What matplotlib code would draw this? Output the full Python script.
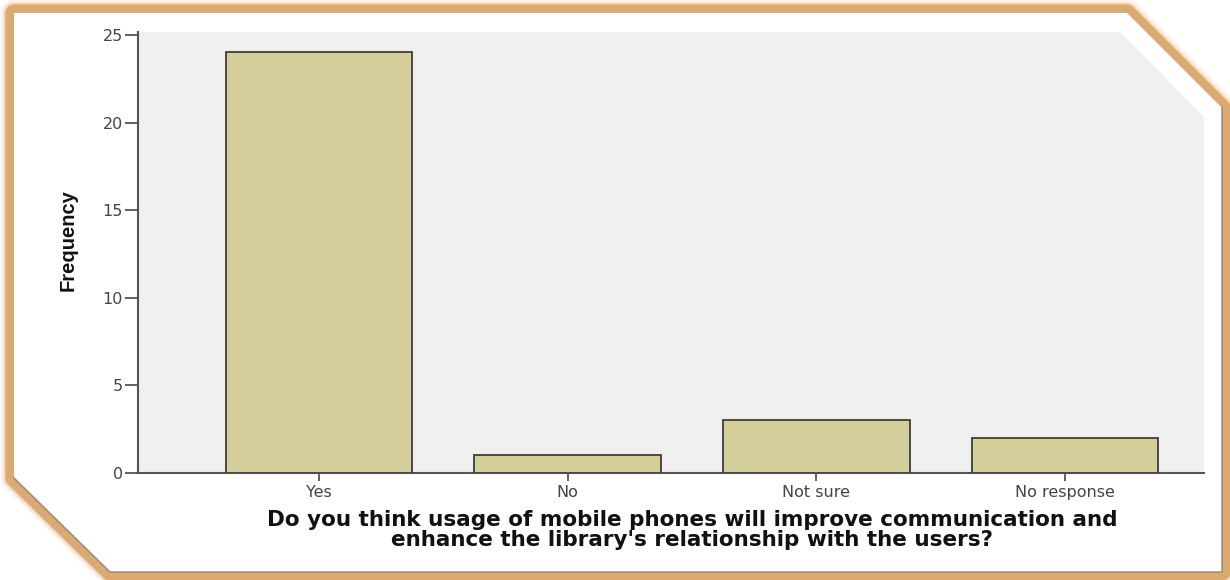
import matplotlib
matplotlib.use("Agg")
import matplotlib.pyplot as plt
from matplotlib.patches import Polygon
from matplotlib.lines import Line2D

categories = ["Yes", "No", "Not sure", "No response"]
frequencies = [24, 1, 3, 2]
yticks = [0, 5, 10, 15, 20, 25]
xlabel_lines = ["Do you think usage of mobile phones will improve communication and",
                "enhance the library's relationship with the users?"]
ylabel = "Frequency"

W, H = 1230, 580
fig = plt.figure(figsize=(W / 100, H / 100), dpi=100)
fig.patch.set_facecolor("white")


def fc(pts):
    return [(x / W, 1 - y / H) for x, y in pts]


frame = [(14, 13), (1127, 13), (1222, 108), (1222, 572), (110, 572), (14, 478)]
tan = "#dba56a"
# soft outer glow of the frame
for lw, a in [(28, 0.08), (24, 0.15), (20, 0.35), (17, 0.9)]:
    fig.patches.append(Polygon(fc(frame), closed=True, transform=fig.transFigure,
                               facecolor="none", edgecolor=tan, linewidth=lw * 0.72,
                               alpha=a, joinstyle="round", zorder=-5))
fig.patches.append(Polygon(fc(frame), closed=True, transform=fig.transFigure,
                           facecolor="white", edgecolor="none", zorder=-4))
# inner shadow line
shadow = [(14, 478), (110, 572), (1222, 572), (1222, 108)]
xs, ys = zip(*fc(shadow))
fig.lines.append(Line2D(xs, ys, transform=fig.transFigure, color="#777777",
                        linewidth=1.2, alpha=0.7, zorder=-3))

# plot area background with cut corner
area = [(138, 32), (1120, 32), (1204, 117), (1204, 473), (138, 473)]
fig.patches.append(Polygon(fc(area), closed=True, transform=fig.transFigure,
                           facecolor="#f0f0f0", edgecolor="none", zorder=-2))

ax = fig.add_axes([138 / W, 1 - 473 / H, (1204 - 138) / W, (473 - 32) / H])
ax.set_facecolor("none")
x = list(range(len(categories)))
ax.bar(x, frequencies, width=0.75, color="#d5d09b", edgecolor="#3d3d3d",
       linewidth=1.3, zorder=3)
ax.set_xlim(-0.728, 3.559)
ax.set_ylim(0, 25.17)
ax.set_yticks(yticks)
ax.set_xticks(x)
ax.set_xticklabels(categories)
for s in ["top", "right"]:
    ax.spines[s].set_visible(False)
for s in ["left", "bottom"]:
    ax.spines[s].set_color("#555555")
    ax.spines[s].set_linewidth(1.5)
ax.tick_params(axis="y", length=9.5, width=1.3, color="#555555", pad=1.5,
               labelsize=11.5, labelcolor="#444444")
ax.tick_params(axis="x", length=6, width=1.3, color="#555555", pad=2.5,
               labelsize=11.5, labelcolor="#444444")
for lab in ax.get_xticklabels() + ax.get_yticklabels():
    lab.set_family("DejaVu Sans")

fig.text(68 / W, 1 - 240 / H, ylabel, rotation=90, ha="center", va="center",
         fontsize=14.5, fontweight="bold", family="Liberation Sans", color="#111111")
for i, line in enumerate(xlabel_lines):
    fig.text(692 / W, 1 - (520 + 19.5 * i) / H, line, ha="center", va="center",
             fontsize=15.5, fontweight="bold", family="DejaVu Sans", color="#111111")

fig.savefig("out.png", dpi=100, facecolor="white")
